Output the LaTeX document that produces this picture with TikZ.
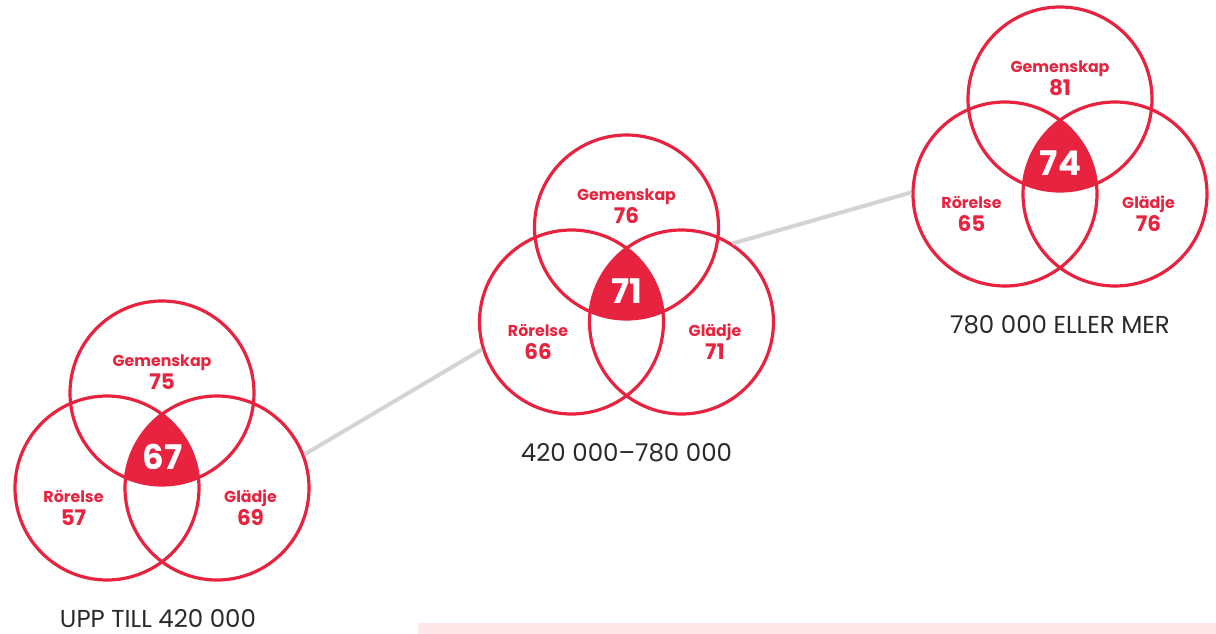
\documentclass[tikz,border=0pt]{standalone}
\usepackage{fontspec}
\setmainfont{Poppins}
\definecolor{vred}{HTML}{E8233F}
\definecolor{vgray}{HTML}{D4D4D4}
\definecolor{vtext}{HTML}{2A2A2A}
\definecolor{vpink}{HTML}{FDE6E8}
\tikzset{
  vcirc/.style={circle, draw=vred, line width=3.2pt, minimum size=184pt, inner sep=0pt},
  vlab/.style={anchor=base, text=vred, font=\bfseries\fontsize{15.8}{17}\selectfont, inner sep=0pt},
  vnum/.style={anchor=base, text=vred, font=\bfseries\fontsize{21.5}{23}\selectfont, inner sep=0pt},
  vmid/.style={anchor=base, text=white, font=\bfseries\fontsize{34}{36}\selectfont, inner sep=0pt},
  vcap/.style={anchor=base, text=vtext, font=\fontsize{24.5}{26}\selectfont, inner sep=0pt},
  vline/.style={draw=vgray, line width=4pt}
}
\newcommand{\myvenn}[8]{%
  \begin{scope}[shift={(#2,#3)}]
    \begin{scope}
      \clip (0,-95) circle (92);
      \clip (-55,0) circle (92);
      \fill[vred] (55,0) circle (92);
    \end{scope}
    \node[vcirc] (#1t) at (0,-95) {};
    \node[vcirc] (#1l) at (-55,0) {};
    \node[vcirc] (#1r) at (55,0) {};
    \node[vlab] (#1gl) at (0,-121.3) {Gemenskap};
    \node[vnum] (#1gn) at (0,-98.5) {#4};
    \node[vlab] (#1rl) at (-88.5,14.5) {Rörelse};
    \node[vnum] (#1rn) at (-88.5,37.5) {#5};
    \node[vlab] (#1ll) at (88.5,14.5) {Glädje};
    \node[vnum] (#1ln) at (88.5,37.5) {#6};
    \node[vmid] (#1c) at (0.5,-19) {#7};
    \node[vcap] (#1cap) at (#8,139) {\vcaptext};
  \end{scope}}
\begin{document}
\begin{tikzpicture}[x=1pt,y=-1pt]
  \useasboundingbox (0,0) rectangle (1216,634);
  \fill[vpink] (418,622.7) rectangle (1216,634);
  \def\vcaptext{UPP TILL 420 000}
  \myvenn{a}{162}{488}{75}{57}{69}{67}{-4}
  \def\vcaptext{420 000–780 000}
  \myvenn{b}{626.5}{322}{76}{66}{71}{71}{0}
  \def\vcaptext{780 000 ELLER MER}
  \myvenn{c}{1060}{194}{81}{65}{76}{74}{0}
  \draw[vline] (ar.21.5) -- (bl.197.5);
  \draw[vline] (br.57.5) -- (cl.179);
\end{tikzpicture}
\end{document}
